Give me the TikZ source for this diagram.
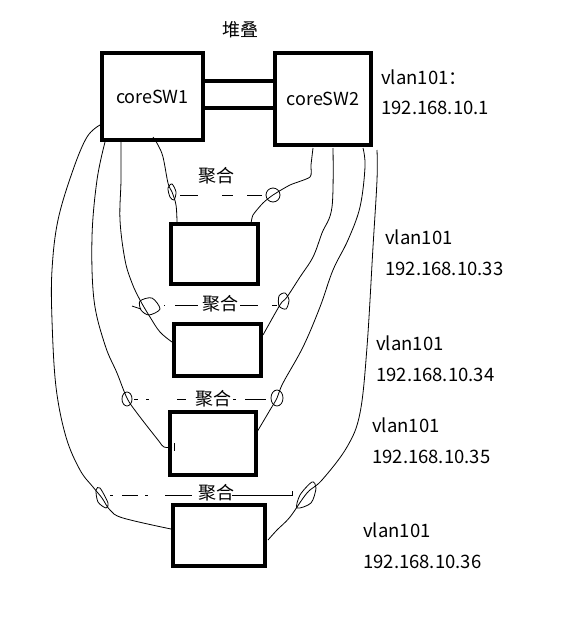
\documentclass[tikz,border=0pt]{standalone}
\usepackage{fontspec}
\setmainfont{Noto Sans CJK SC}
\begin{document}
\begin{tikzpicture}[x=1pt,y=-1pt,
  box/.style={draw=black,line width=4pt,inner sep=0pt,font=\fontsize{18}{20}\selectfont},
  wire/.style={line width=0.8pt,black},
  lbl/.style={font=\fontsize{18.5}{20}\selectfont,inner sep=0pt,anchor=west},
  agg/.style={font=\fontsize{18}{20}\selectfont,inner sep=0pt},
  thick link/.style={line width=4pt}]
\useasboundingbox (0,0) rectangle (578,622);

% boxes
\node[box,minimum width=101pt,minimum height=87pt] (c1) at (152.5,96.5) {coreSW1};
\node[box,minimum width=96pt,minimum height=92pt] (c2) at (323,99) {coreSW2};
\node[box,minimum width=87pt,minimum height=60pt] (b1) at (214.5,254) {};
\node[box,minimum width=87pt,minimum height=52pt] (b2) at (217.5,350) {};
\node[box,minimum width=86pt,minimum height=63pt] (b3) at (213,443.5) {};
\node[box,minimum width=92pt,minimum height=61pt] (b4) at (219,535.5) {};

% stacking links
\coordinate (s1) at (0,81);
\coordinate (s2) at (0,108);
\draw[thick link] ([xshift=-2pt]c1.east |- s1) -- ([xshift=2pt]c2.west |- s1);
\draw[thick link] ([xshift=-2pt]c1.east |- s2) -- ([xshift=2pt]c2.west |- s2);
\node[agg] (stk) at (240,30) {堆叠};

% labels
\node[lbl] (t0a) at (381,77) {vlan101：};
\node[lbl] (t0b) at (381,108) {192.168.10.1};
\node[lbl] (t1a) at (385,237) {vlan101};
\node[lbl] (t1b) at (385,269) {192.168.10.33};
\node[lbl] (t2a) at (376,343) {vlan101};
\node[lbl] (t2b) at (376,375) {192.168.10.34};
\node[lbl] (t3a) at (372,425) {vlan101};
\node[lbl] (t3b) at (372,457) {192.168.10.35};
\node[lbl] (t4a) at (363,530) {vlan101};
\node[lbl] (t4b) at (363,562) {192.168.10.36};

% aggregation labels
\node[agg] (g1) at (216,176) {聚合};
\node[agg] (g2) at (220,304) {聚合};
\node[agg] (g3) at (213,399) {聚合};
\node[agg] (g4) at (216,493) {聚合};

% left wires
\draw[wire] plot[smooth,tension=0.6] coordinates {(153,137) (158,145) (163,157) (168,183) (172,192) (176,205) (177,222)};
\draw[wire] plot[smooth,tension=0.6] coordinates {(121,142) (121,180) (120,220) (125,260) (132,283) (140,300) (150,317) (160,332) (172,342)};
\draw[wire] plot[smooth,tension=0.6] coordinates {(105,142) (97,180) (92,237) (94,300) (105,345) (117,373) (127,398) (137,413) (158,440) (164,447) (172,447)};
\draw[wire] (174,443) -- (174,451);
\draw[wire] plot[smooth,tension=0.6] coordinates {(100,125) (87,137) (73,170) (58,220) (52,270) (52,320) (56,387) (66,437) (80,470) (93,487) (102,498) (110,510) (123,518) (171,529)};

% right wires
\draw[wire] plot[smooth,tension=0.4] coordinates {(313,148) (311,165) (310,177) (290,185) (273,195) (263,203) (253,215) (251,224)};
\draw[wire] plot[smooth,tension=0.6] coordinates {(333,148) (332,207) (322,233) (313,257) (300,277) (287,297) (282,302) (277,310) (263,335)};
\draw[wire] plot[smooth,tension=0.6] coordinates {(363,148) (365,167) (360,207) (348,240) (333,270) (320,307) (303,347) (283,383) (277,398) (270,410) (257,432)};
\draw[wire] plot[smooth,tension=0.6] coordinates {(377,150) (377,180) (373,247) (367,347) (360,413) (347,447) (322,480) (307,493) (290,517) (277,530) (268,540)};

% aggregation loops
\draw[wire] plot[smooth cycle] coordinates {(168,188) (172,184) (176,192) (174,200) (170,197)};
\draw[wire] (273,195) circle[radius=7pt];
\draw[wire] plot[smooth cycle] coordinates {(140,301) (152,298) (160,309) (149,315) (141,310)};
\draw[wire] (132,306) -- (141,309);
\draw[wire] plot[smooth cycle] coordinates {(279,296) (285,293) (289,300) (286,309) (279,306)};
\draw[wire] (127,399) ellipse[x radius=5pt,y radius=7pt];
\draw[wire] (277,398) ellipse[x radius=6pt,y radius=8pt];
\draw[wire] plot[smooth cycle] coordinates {(96,490) (100,488) (108,503) (106,508) (98,502)};
\draw[wire] plot[smooth cycle] coordinates {(297,508) (300,495) (312,482) (316,488) (311,503)};

% aggregation dashes
\draw[wire] (180,195) -- (198,195);
\draw[wire] (222,195) -- (233,195);
\draw[wire] (247,195) -- (262,195);

\draw[wire] (164,305) -- (165,305);
\draw[wire] (175,305) -- (198,305);
\draw[wire] (240,305) -- (258,305);
\draw[wire] (272,305) -- (277,305);

\draw[wire] (134,399) -- (138,399);
\draw[wire] (146,399) -- (149,399);
\draw[wire] (177,399) -- (186,399);
\draw[wire] (233,399) -- (236,399);
\draw[wire] (245,399) -- (266,399);

\draw[wire] (110,495) -- (113,495);
\draw[wire] (122,495) -- (138,495);
\draw[wire] (145,495) -- (148,495);
\draw[wire] (165,495) -- (192,495);
\draw[wire] (232,495) -- (292,495) -- (292,491);
\end{tikzpicture}
\end{document}
